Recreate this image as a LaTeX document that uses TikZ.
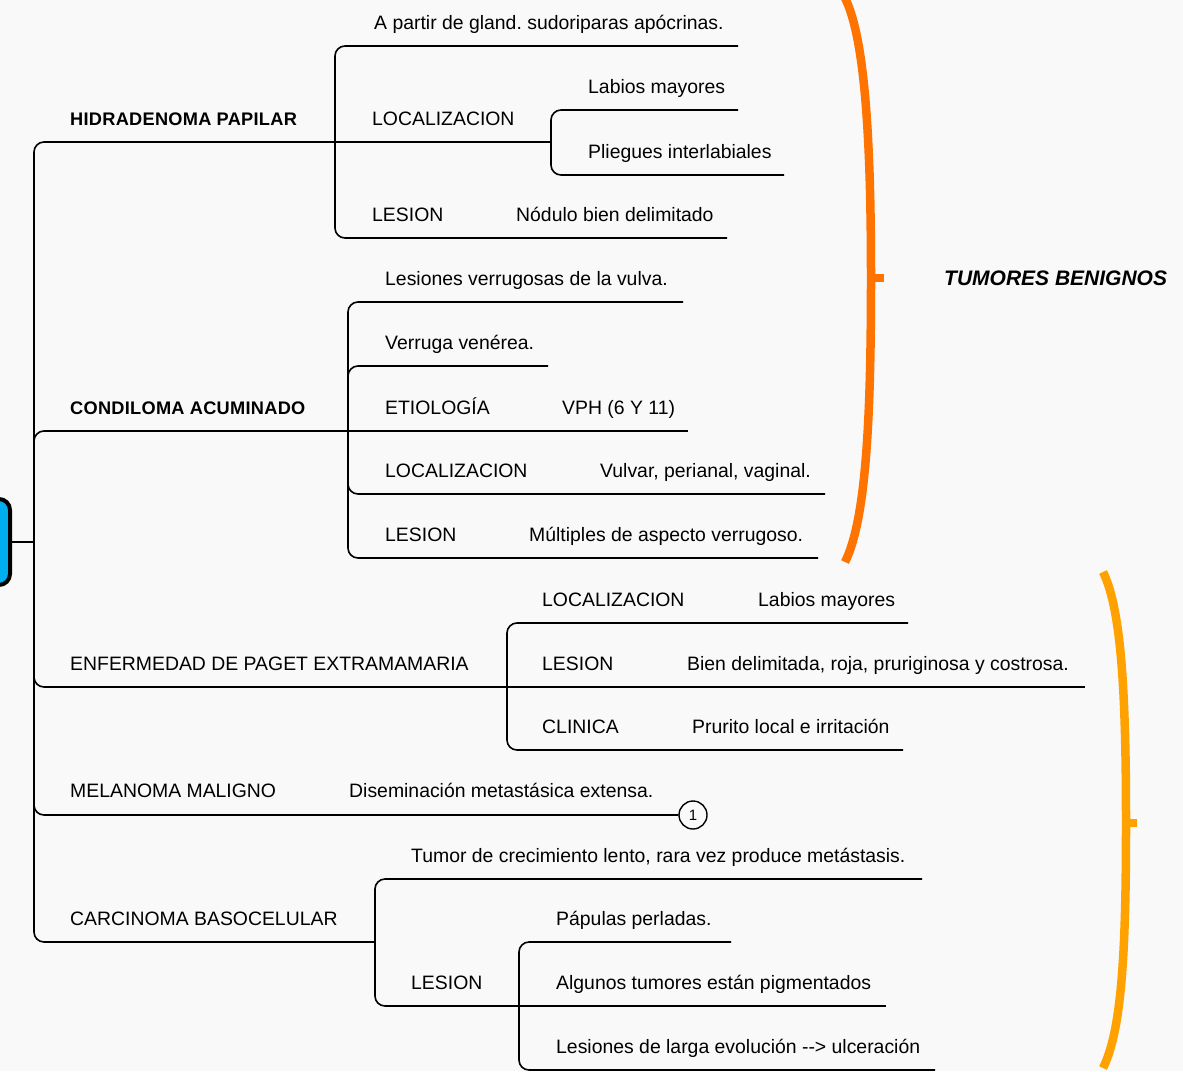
\documentclass[tikz,border=0pt]{standalone}
\usepackage{fontspec}
\setmainfont{Liberation Sans}
\newfontfamily\lblfont[LetterSpace=1.5]{Liberation Sans}
\definecolor{bgc}{HTML}{F9F9F9}
\definecolor{rootblue}{HTML}{00AEEF}
\definecolor{braceA}{HTML}{FF7300}
\definecolor{braceB}{HTML}{FFA200}
\frenchspacing
\begin{document}
\begin{tikzpicture}[x=1pt,y=-1pt,
  conn/.style={line width=1.6, rounded corners=10, draw=black},
  txt/.style={anchor=base west, inner sep=0, font=\fontsize{19.4}{22}\selectfont},
  lbl/.style={anchor=base west, inner sep=0, font=\fontsize{18.2}{20}\lblfont\bfseries},
  rootbox/.style={draw=black, fill=rootblue, line width=4, rounded corners=11, minimum width=76, minimum height=86, inner sep=0},
  bracestyle/.style={line width=8.5, line cap=butt}]
\fill[bgc] (0,0) rectangle (1183,1071);
\useasboundingbox (0,0) rectangle (1183,1071);

% root
\node[rootbox] (root) at (-28,542) {};
\coordinate (trunk) at (34,542);
\draw[conn] (root.east) -- (trunk);

% ---------- HIDRADENOMA PAPILAR
\node[lbl] (hp) at (70,125) {HIDRADENOMA PAPILAR};
\coordinate (hpJ) at (335,142);
\draw[conn] (trunk) |- (hpJ);

\node[txt] (hpA) at (374,29) {A partir de gland. sudoriparas apócrinas.};
\coordinate (hpAe) at (738,46);
\draw[conn] (hpJ) |- (hpAe);

\node[txt] (hpL) at (372,125) {LOCALIZACION};
\coordinate (hpLJ) at (551,142);
\draw[conn] (hpJ) -- (hpLJ);
\node[txt] (hpL1) at (588,93) {Labios mayores};
\coordinate (hpL1e) at (738,110);
\draw[conn] (hpLJ) |- (hpL1e);
\node[txt] (hpL2) at (588,158) {Pliegues interlabiales};
\coordinate (hpL2e) at (784,175);
\draw[conn] (hpLJ) |- (hpL2e);

\node[txt] (hpS) at (372,221) {LESION};
\node[txt] (hpS1) at (516,221) {Nódulo bien delimitado};
\coordinate (hpSe) at (727,238);
\draw[conn] (hpJ) |- (hpSe);

% ---------- CONDILOMA ACUMINADO
\node[lbl] (ca) at (70,414) {CONDILOMA ACUMINADO};
\coordinate (caJ) at (348,431);
\draw[conn] (trunk) |- (caJ);

\node[txt] (ca1) at (385,285) {Lesiones verrugosas de la vulva.};
\coordinate (ca1e) at (683,302);
\draw[conn] (caJ) |- (ca1e);

\node[txt] (ca2) at (385,349) {Verruga venérea.};
\coordinate (ca2e) at (548,366);
\draw[conn] (caJ) |- (ca2e);

\node[txt] (ca3) at (385,414) {ETIOLOGÍA};
\node[txt] (ca3a) at (562,414) {VPH (6 Y 11)};
\coordinate (ca3e) at (688,431);
\draw[conn] (caJ) -- (ca3e);

\node[txt] (ca4) at (385,477) {LOCALIZACION};
\node[txt] (ca4a) at (600,477) {Vulvar, perianal, vaginal.};
\coordinate (ca4e) at (825,494);
\draw[conn] (caJ) |- (ca4e);

\node[txt] (ca5) at (385,541) {LESION};
\node[txt] (ca5a) at (529,541) {Múltiples de aspecto verrugoso.};
\coordinate (ca5e) at (818,558);
\draw[conn] (caJ) |- (ca5e);

% ---------- PAGET
\node[txt] (pg) at (70,670) {ENFERMEDAD DE PAGET EXTRAMAMARIA};
\coordinate (pgJ) at (507,687);
\draw[conn] (trunk) |- (pgJ);

\node[txt] (pg1) at (542,606) {LOCALIZACION};
\node[txt] (pg1a) at (758,606) {Labios mayores};
\coordinate (pg1e) at (908,623);
\draw[conn] (pgJ) |- (pg1e);

\node[txt] (pg2) at (542,670) {LESION};
\node[txt] (pg2a) at (687,670) {Bien delimitada, roja, pruriginosa y costrosa.};
\coordinate (pg2e) at (1085,687);
\draw[conn] (pgJ) -- (pg2e);

\node[txt] (pg3) at (542,733) {CLINICA};
\node[txt] (pg3a) at (692,733) {Prurito local e irritación};
\coordinate (pg3e) at (903,750);
\draw[conn] (pgJ) |- (pg3e);

% ---------- MELANOMA
\node[txt] (mm) at (70,797) {MELANOMA MALIGNO};
\node[txt] (mm1) at (349,797) {Diseminación metastásica extensa.};
\node[draw=black, fill=bgc, circle, line width=1.4, minimum size=28, inner sep=0,
      font=\fontsize{15}{15}\selectfont] (c1) at (693,815) {1};
\draw[conn] (trunk) |- (c1.west);

% ---------- CARCINOMA BASOCELULAR
\node[txt] (cb) at (70,925) {CARCINOMA BASOCELULAR};
\coordinate (cbJ) at (375,942);
\draw[conn] (trunk) |- (cbJ);

\node[txt] (cb1) at (411,862) {Tumor de crecimiento lento, rara vez produce metástasis.};
\coordinate (cb1e) at (922,879);
\draw[conn] (cbJ) |- (cb1e);

\node[txt] (cb2) at (411,989) {LESION};
\coordinate (cb2J) at (519,1006);
\draw[conn] (cbJ) |- (cb2J);

\node[txt] (cb2a) at (556,925) {Pápulas perladas.};
\coordinate (cb2ae) at (731,942);
\draw[conn] (cb2J) |- (cb2ae);
\node[txt] (cb2b) at (556,989) {Algunos tumores están pigmentados};
\coordinate (cb2be) at (886,1006);
\draw[conn] (cb2J) -- (cb2be);
\node[txt] (cb2c) at (556,1053) {Lesiones de larga evolución {-}{-}> ulceración};
\coordinate (cb2ce) at (935,1070);
\draw[conn] (cb2J) |- (cb2ce);

% ---------- braces
\draw[bracestyle, braceA] (845,-2) .. controls (866,40) and (871,150) .. (871,278)
  .. controls (871,420) and (866,520) .. (845,562);
\draw[line width=8, braceA] (869,278) -- (884,278);
\node[anchor=base west, inner sep=0, font=\fontsize{21}{24}\selectfont\bfseries\itshape] (tb) at (944,285) {TUMORES BENIGNOS};

\draw[bracestyle, braceB] (1103,572) .. controls (1122,610) and (1126,700) .. (1126,823)
  .. controls (1126,950) and (1122,1030) .. (1103,1068);
\draw[line width=8, braceB] (1124,823) -- (1137,823);
\end{tikzpicture}
\end{document}
